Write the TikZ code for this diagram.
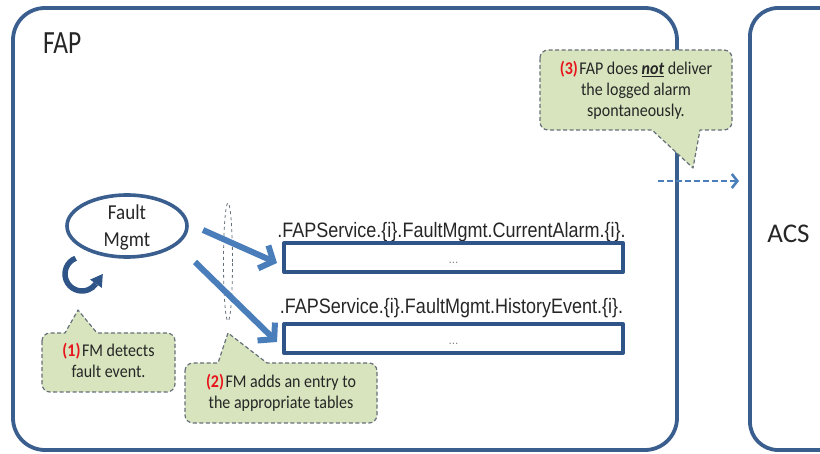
\documentclass[tikz,border=0pt]{standalone}
\usepackage{fontspec}
\setmainfont{Carlito}
\newfontfamily\tblfont{Liberation Sans}
\usetikzlibrary{arrows.meta,shapes.geometric,calc}

\definecolor{frameblue}{HTML}{3A5F8F}
\definecolor{boxblue}{HTML}{2F5588}
\definecolor{arrowblue}{HTML}{4A7EBB}
\definecolor{calloutfill}{HTML}{D7E4BD}
\definecolor{calloutline}{HTML}{66707A}
\definecolor{txt}{HTML}{262626}
\definecolor{numred}{HTML}{E8141B}

% vertically stretched text
\newcommand\stretchy[2]{\scalebox{1}[#1]{#2}}
% centred, stretched callout text
\newcommand\cotext[1]{\scalebox{1}[1.12]{\fontsize{16}{18.8}\selectfont\begin{tabular}{@{}c@{}}#1\end{tabular}}}
% red step number
\newcommand\stepnum[1]{\textcolor{numred}{\textbf{(#1)}}\hspace{1.5pt}}

\begin{document}
\begin{tikzpicture}[x=1pt, y=-1pt, line join=round,
  frame/.style={draw=frameblue, line width=3.8pt, rounded corners=32pt},
  tbl/.style={draw=boxblue, line width=4pt, minimum width=339pt, minimum height=29pt, inner sep=0pt},
  fatarrow/.style={draw=arrowblue, line width=6pt, -{Straight Barb[length=11pt,width=25pt]}},
  callout/.style={fill=calloutfill, draw=calloutline, line width=1.2pt, dash pattern=on 4pt off 2.5pt},
  lbl/.style={text=txt, inner sep=0pt}]

\useasboundingbox (0,0) rectangle (820,454);
\clip (0,0) rectangle (820,454);

% the two systems
\draw[frame] (13,8) rectangle (677,450);
\draw[frame, rounded corners=28pt] (750,8) rectangle (900,450);
\node[lbl, anchor=base west] (faptitle) at (43,54) {\stretchy{1.27}{\fontsize{25.5}{30}\selectfont FAP}};
\node[lbl] (acs) at (788.5,233.5) {\fontsize{27}{32}\selectfont ACS};

% fault management block
\node[draw=frameblue, line width=3.6pt, ellipse, minimum width=120pt, minimum height=62pt, inner sep=0pt] (fm) at (127,226) {};
\node[lbl] (fmtext) at (127,227.5) {\scalebox{1}[1.12]{\fontsize{19}{24}\selectfont\begin{tabular}{@{}c@{}}Fault\\Mgmt\end{tabular}}};

% self-detection loop: arc plus its arrowhead
\coordinate (cyc) at (82,274);
\draw[draw=boxblue, line width=5.5pt]
  (cyc) ++(-112:17) arc[start angle=-112, end angle=-325, radius=17] coordinate (cycend);
\fill[boxblue] ($(cycend)+(5.9,4.1)$) -- ($(cycend)+(6.9,-9.8)$) -- ($(cycend)+(-5.9,-4.1)$) -- cycle;

% separator between FM and the tables
\node[draw=calloutline, dashed, line width=0.8pt, ellipse, minimum width=9pt, minimum height=118pt, inner sep=0pt] (sep) at (228,262) {};

% data model tables
\node[lbl, anchor=base, font=\tblfont\fontsize{18}{20}\selectfont] (curlbl) at (451.5,238)
  {\stretchy{1.16}{.FAPService.\{i\}.FaultMgmt.CurrentAlarm.\{i\}.}};
\node[tbl] (curtbl) at (453.5,257.5) {};
\node[lbl, anchor=base, text=gray, font=\tblfont\fontsize{12}{12}\selectfont] (curdots) at (453.5,264) {...};

\node[lbl, anchor=base, font=\tblfont\fontsize{18}{20}\selectfont] (histlbl) at (451.5,314)
  {\stretchy{1.16}{.FAPService.\{i\}.FaultMgmt.HistoryEvent.\{i\}.}};
\node[tbl] (histtbl) at (453.5,338.5) {};
\node[lbl, anchor=base, text=gray, font=\tblfont\fontsize{12}{12}\selectfont] (histdots) at (453.5,345) {...};

% FM writes into the tables
\coordinate (a1s) at (203,230);
\coordinate (a1e) at (277,263);
\coordinate (a2s) at (195,262);
\coordinate (a2e) at (277,342);
\draw[fatarrow] (a1s) -- (a1e);
\draw[fatarrow] (a2s) -- (a2e);

% callout (1)
\draw[callout] (42,341) arc[start angle=180,end angle=270,radius=8] -- (65,333) -- (78,310) -- (97,333)
  -- (167,333) arc[start angle=270,end angle=360,radius=8] -- (175,384)
  arc[start angle=0,end angle=90,radius=8] -- (50,392) arc[start angle=90,end angle=180,radius=8] -- cycle;
\node[lbl] (c1) at (108.5,362.5) {\cotext{\stepnum{1}FM detects\\fault event.}};

% callout (2)
\draw[callout] (185,371) arc[start angle=180,end angle=270,radius=8] -- (218,363) -- (228,333) -- (267,363)
  -- (369,363) arc[start angle=270,end angle=360,radius=8] -- (377,415)
  arc[start angle=0,end angle=90,radius=8] -- (193,423) arc[start angle=90,end angle=180,radius=8] -- cycle;
\node[lbl] (c2) at (281,393.5) {\cotext{\stepnum{2}FM adds an entry to\\the appropriate tables}};

% callout (3)
\draw[callout] (540,58) arc[start angle=180,end angle=270,radius=8] -- (724,50)
  arc[start angle=270,end angle=360,radius=8] -- (732,122)
  arc[start angle=0,end angle=90,radius=8] -- (700,130) -- (693,168) -- (652,130)
  -- (548,130) arc[start angle=90,end angle=180,radius=8] -- cycle;
\node[lbl] (c3) at (636,91) {\cotext{\stepnum{3}FAP does \underline{\textbf{\textit{not}}} deliver\\the logged alarm\\spontaneously.}};

% no spontaneous delivery to the ACS
\coordinate (d1) at (658,181);
\coordinate (d2) at (739,181);
\draw[draw=arrowblue, line width=2.6pt, dash pattern=on 6pt off 3pt, -{Straight Barb[length=5.5pt,width=14pt]}] (d1) -- (d2);

\end{tikzpicture}
\end{document}
